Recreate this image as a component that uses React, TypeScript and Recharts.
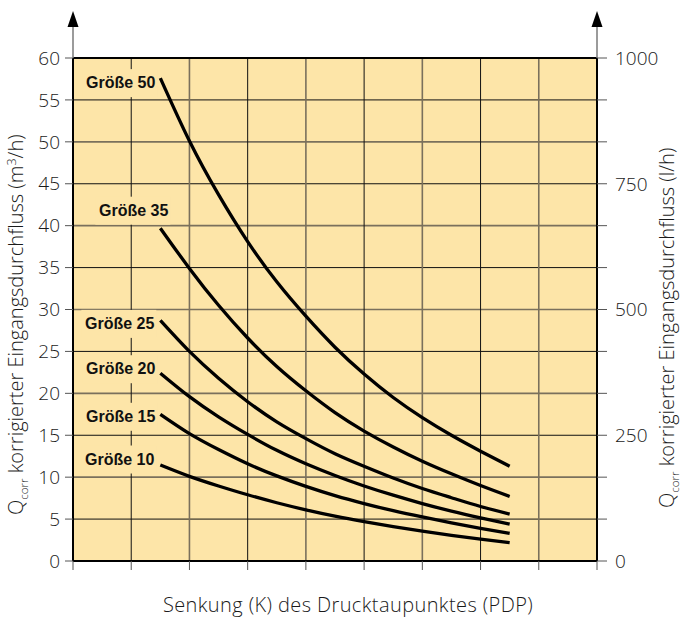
import React from 'react';
import { LineChart, Line, XAxis, YAxis, CartesianGrid, ReferenceLine, Label } from 'recharts';

// Senkung (K) positions where the curves are read, 0..9 grid
const X_POINTS = [1.5, 2, 2.5, 3, 3.5, 4, 4.5, 5, 5.5, 6, 6.5, 7, 7.5];
const X_TICKS = [0, 1, 2, 3, 4, 5, 6, 7, 8, 9];

// Qcorr in m³/h per size
const G50 = [57.6, 50.1, 43.7, 38.1, 33.3, 29.2, 25.5, 22.3, 19.5, 17.1, 15.0, 13.1, 11.3];
const G35 = [39.7, 34.9, 30.5, 26.6, 23.2, 20.3, 17.7, 15.5, 13.6, 11.9, 10.4, 9.0, 7.7];
const G25 = [28.7, 25.0, 21.8, 19.0, 16.6, 14.6, 12.8, 11.3, 9.9, 8.65, 7.55, 6.5, 5.6];
const G20 = [22.4, 19.6, 17.2, 15.1, 13.2, 11.6, 10.2, 8.95, 7.85, 6.85, 5.95, 5.15, 4.4];
const G15 = [17.5, 15.2, 13.3, 11.6, 10.15, 8.9, 7.8, 6.85, 6.0, 5.25, 4.55, 3.9, 3.3];
const G10 = [11.45, 10.1, 8.95, 7.9, 6.95, 6.1, 5.35, 4.7, 4.1, 3.55, 3.05, 2.6, 2.2];

const SERIES = [
  { key: 'g50', name: 'Größe 50', values: G50 },
  { key: 'g35', name: 'Größe 35', values: G35 },
  { key: 'g25', name: 'Größe 25', values: G25 },
  { key: 'g20', name: 'Größe 20', values: G20 },
  { key: 'g15', name: 'Größe 15', values: G15 },
  { key: 'g10', name: 'Größe 10', values: G10 },
];

const LEFT_TICKS = [0, 5, 10, 15, 20, 25, 30, 35, 40, 45, 50, 55, 60];
// l/h labels on the right, and the m³/h value each one lines up with
const RIGHT_TICKS = [0, 250, 500, 750, 1000];
const RIGHT_TICK_AT = [0, 15, 30, 45, 60];

const data = X_POINTS.map((x, i) => {
  const row: Record<string, number> = { x };
  SERIES.forEach(s => { row[s.key] = s.values[i]; });
  return row;
});

const BG = '#FDE5A8';
const FONT = '"Open Sans", "Liberation Sans", Arial, sans-serif';
const TEXT = '#1a1a1a';
const GRID_DARK = '#111';
const GRID_GREY = '#7a705c';

// where each name sits relative to the first point of its curve
const LABEL_POS: Record<string, { dx: number; dy: number }> = {
  g50: { dx: -5, dy: 10 },
  g35: { dx: 8, dy: -12.5 },
  g25: { dx: -6, dy: 8.5 },
  g20: { dx: -5, dy: 1 },
  g15: { dx: -5, dy: 7.5 },
  g10: { dx: -6, dy: -0.5 },
};

const seriesLabel = (key: string, name: string) => (props: any) => {
  if (props.index !== 0) return <g />;
  const { dx, dy } = LABEL_POS[key];
  const tx = props.x + dx;
  const ty = props.y + dy;
  return (
    <g>
      <rect x={tx - 73} y={ty - 19} width={75} height={28} fill={BG} />
      <text x={tx} y={ty} textAnchor="end" fontFamily='"Liberation Sans", Arial, sans-serif'
        fontWeight="bold" fontSize={16} fill="#111">{name}</text>
    </g>
  );
};

// alternating dark / grey grid lines
const gridLine = (p: any) => {
  const grey = p.index % 2 === 0;
  return (
    <line key={p.key} x1={p.x1} y1={p.y1} x2={p.x2} y2={p.y2}
      stroke={grey ? GRID_GREY : GRID_DARK} strokeWidth={grey ? 1.6 : 1} />
  );
};

const AxisArrow = ({ ax, top }: { ax: number; top: number }) => (
  <g>
    <line x1={ax} y1={top} x2={ax} y2={top - 32} stroke="#7a7a7a" strokeWidth={1.5} />
    <polygon points={`${ax},${top - 47} ${ax - 5.5},${top - 31} ${ax + 5.5},${top - 31}`} fill="#000" />
  </g>
);

const LeftTitle = (props: any) => {
  const { x, y, width, height } = props.viewBox;
  return (
    <g>
      <AxisArrow ax={x + width} top={y} />
      <text transform={`translate(${x + 23},${y + height - 46}) rotate(-90)`} fontFamily={FONT}
        fontWeight={300} fontSize={20} fill={TEXT}>
        Q<tspan fontSize={11.5} dy={5}>corr</tspan>
        <tspan dy={-5}> korrigierter Eingangsdurchfluss (m</tspan>
        <tspan fontSize={12.5} dy={-7}>3</tspan>
        <tspan dy={7}>/h)</tspan>
      </text>
    </g>
  );
};

const RightTitle = (props: any) => {
  const { x, y, height } = props.viewBox;
  return (
    <g>
      <AxisArrow ax={x} top={y} />
      <text transform={`translate(${x + 77},${y + height - 53}) rotate(-90)`} fontFamily={FONT}
        fontWeight={300} fontSize={20} fill={TEXT}>
        Q<tspan fontSize={11.5} dy={5}>corr</tspan>
        <tspan dy={-5}> korrigierter Eingangsdurchfluss (l/h)</tspan>
      </text>
    </g>
  );
};

const BottomTitle = (props: any) => {
  const { x, y, width } = props.viewBox;
  return (
    <text x={x + width / 2 + 13} y={y + 51} textAnchor="middle" fontFamily={FONT}
      fontWeight={300} fontSize={20} letterSpacing={0.4} fill={TEXT}>
      Senkung (K) des Drucktaupunktes (PDP)
    </text>
  );
};

const tickStyle = { fontFamily: FONT, fontWeight: 300, fontSize: 19, fill: TEXT };

// right axis: tick line at every gridline, l/h text only where it lines up
const RightTick = (props: any) => {
  const { x, y, payload } = props;
  const k = RIGHT_TICK_AT.indexOf(payload.value);
  return (
    <g>
      <line x1={x - 18} y1={y} x2={x - 8} y2={y} stroke="#555" />
      {k >= 0 && (
        <text x={x} y={y} dy="0.36em" textAnchor="start" fontFamily={FONT} fontWeight={300}
          fontSize={19} fill={TEXT}>{RIGHT_TICKS[k]}</text>
      )}
    </g>
  );
};

export default function App() {
  return (
    <div style={{ position: 'absolute', left: 0, top: 0, background: '#fff' }}>
      <LineChart width={683} height={617} data={data} margin={{ top: 58, right: 0, bottom: 0, left: 0 }}>
        <CartesianGrid yAxisId="left" fill={BG} fillOpacity={1}
          horizontal={gridLine} vertical={gridLine} />
        <XAxis dataKey="x" type="number" domain={[0, 9]} ticks={X_TICKS} height={56}
          tickFormatter={() => ''} tickSize={9} interval={0}
          axisLine={{ stroke: '#000', strokeWidth: 2 }} tickLine={{ stroke: '#555' }}>
          <Label content={BottomTitle} />
        </XAxis>
        <YAxis yAxisId="left" domain={[0, 60]} ticks={LEFT_TICKS} width={73} interval={0}
          tickSize={8} tickMargin={5} tick={tickStyle}
          axisLine={{ stroke: '#000', strokeWidth: 2 }} tickLine={{ stroke: '#555' }}>
          <Label content={LeftTitle} />
        </YAxis>
        <YAxis yAxisId="right" orientation="right" domain={[0, 60]} ticks={LEFT_TICKS} width={86}
          interval={0} tickSize={10} tickMargin={8} tick={<RightTick />} tickLine={false}
          axisLine={{ stroke: '#000', strokeWidth: 2 }}>
          <Label content={RightTitle} />
        </YAxis>

        <ReferenceLine yAxisId="left" y={60} stroke="#000" strokeWidth={2} />

        {/* invisible series so the right axis has data and draws its ticks */}
        <Line yAxisId="right" dataKey="g50" stroke="none" dot={false} activeDot={false}
          legendType="none" isAnimationActive={false} />

        {SERIES.map(s => (
          <Line key={s.key} yAxisId="left" type="natural" dataKey={s.key} stroke="#000"
            strokeWidth={3.3} dot={false} isAnimationActive={false}
            label={seriesLabel(s.key, s.name)} />
        ))}
      </LineChart>
    </div>
  );
}
